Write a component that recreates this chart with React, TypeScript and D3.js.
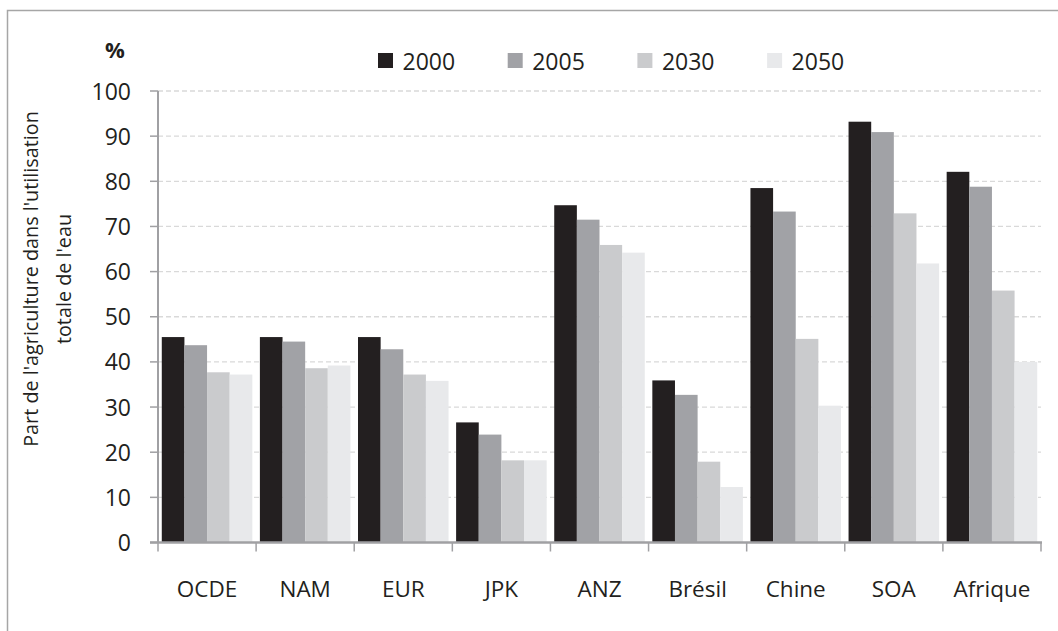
import React from "react";
import * as d3 from "d3";

// Part de l'agriculture dans l'utilisation totale de l'eau (%)
const regions = ["OCDE", "NAM", "EUR", "JPK", "ANZ", "Brésil", "Chine", "SOA", "Afrique"];
const years = ["2000", "2005", "2030", "2050"];
const values2000 = [45.5, 45.5, 45.5, 26.6, 74.7, 35.9, 78.5, 93.2, 82.1];
const values2005 = [43.7, 44.5, 42.8, 23.9, 71.5, 32.7, 73.3, 90.9, 78.8];
const values2030 = [37.7, 38.6, 37.2, 18.2, 65.9, 17.9, 45.1, 72.9, 55.8];
const values2050 = [37.2, 39.2, 35.8, 18.2, 64.2, 12.3, 30.3, 61.8, 40.0];
const yTicks = [0, 10, 20, 30, 40, 50, 60, 70, 80, 90, 100];
const colors = ["#231f20", "#a1a2a6", "#cacbcd", "#e8e9eb"];

const series = [values2000, values2005, values2030, values2050];

const W = 1058;
const H = 631;
const FONT = "'Open Sans', sans-serif";
const TEXT = "#231f20";
const AXIS = "#a0a0a3";

export default function App() {
  const left = 158;
  const right = 1041;
  const top = 91;
  const bottom = 542.5;

  const x = d3.scaleBand<string>().domain(regions).range([left, right]).paddingInner(0).paddingOuter(0);
  const inner = d3
    .scaleBand<string>()
    .domain(years)
    .range([0, x.bandwidth()])
    .paddingOuter(0.167)
    .paddingInner(0);
  const y = d3.scaleLinear().domain([0, 100]).range([bottom, top]);

  const boundaries = regions.map((r) => x(r) as number).concat([right]);

  return (
    <svg
      width={W}
      height={H}
      style={{ position: "fixed", left: 0, top: 0, background: "#fff" }}
      fontFamily={FONT}
    >
      <rect x={0} y={0} width={W} height={H} fill="#fff" />
      <rect x={7.5} y={10.5} width={W + 20} height={H + 20} fill="none" stroke="#a6a6a6" strokeWidth={1.5} />

      {/* gridlines */}
      {yTicks
        .filter((t) => t > 0)
        .map((t) => (
          <line
            key={"g" + t}
            x1={left}
            x2={right}
            y1={y(t)}
            y2={y(t)}
            stroke="#d9d9d9"
            strokeWidth={1.3}
            strokeDasharray="5 3"
          />
        ))}

      {/* bars */}
      {regions.map((r, i) => (
        <g key={r} transform={`translate(${x(r)},0)`}>
          {series.map((vals, s) => (
            <rect
              key={years[s]}
              x={inner(years[s])}
              y={y(vals[i])}
              width={inner.bandwidth()}
              height={bottom - y(vals[i])}
              fill={colors[s]}
            />
          ))}
        </g>
      ))}

      {/* y axis */}
      <line x1={left} x2={left} y1={top} y2={bottom} stroke={AXIS} strokeWidth={2} />
      {yTicks.map((t) => (
        <g key={"t" + t}>
          <line x1={150} x2={left} y1={y(t)} y2={y(t)} stroke={AXIS} strokeWidth={1.5} />
          <text x={131} y={y(t) + 8.5} textAnchor="end" fontSize={23} fill={TEXT}>
            {t}
          </text>
        </g>
      ))}

      {/* x axis */}
      <line x1={left - 8} x2={right + 1} y1={bottom} y2={bottom} stroke={AXIS} strokeWidth={2.5} />
      {boundaries.map((bx, i) => (
        <line key={"xt" + i} x1={bx} x2={bx} y1={bottom} y2={bottom + 9} stroke={AXIS} strokeWidth={1.5} />
      ))}
      {regions.map((r) => (
        <text
          key={"xl" + r}
          x={(x(r) as number) + x.bandwidth() / 2}
          y={597}
          textAnchor="middle"
          fontSize={22.5}
          fill={TEXT}
        >
          {r}
        </text>
      ))}

      {/* unit */}
      <text x={115} y={58} textAnchor="middle" fontSize={22} fontWeight="bold" fill={TEXT}>
        %
      </text>

      {/* y axis title */}
      <g transform="translate(38,279) rotate(-90)">
        <text x={0} y={0} textAnchor="middle" fontSize={19.8} fill={TEXT}>
          Part de l'agriculture dans l'utilisation
        </text>
        <text x={0} y={33} textAnchor="middle" fontSize={19.8} fill={TEXT}>
          totale de l'eau
        </text>
      </g>

      {/* legend */}
      {years.map((yr, i) => (
        <g key={"lg" + yr} transform={`translate(${378 + i * 129.7},53)`}>
          <rect x={0} y={0} width={15} height={15} fill={colors[i]} />
          <text x={24.5} y={17} fontSize={23} fill={TEXT}>
            {yr}
          </text>
        </g>
      ))}
    </svg>
  );
}
